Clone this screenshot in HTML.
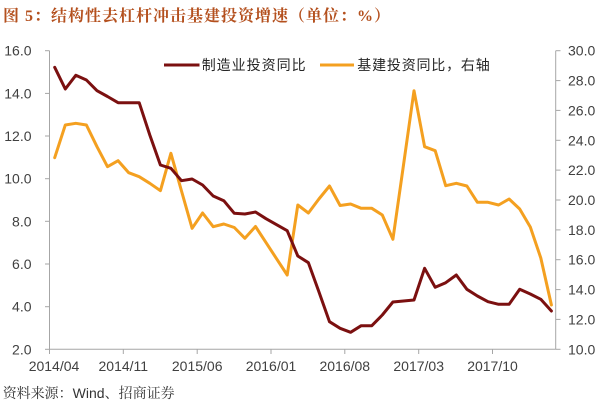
<!DOCTYPE html>
<html>
<head>
<meta charset="utf-8">
<style>
html,body{margin:0;padding:0;background:#fff;}
svg{display:block;}
</style>
</head>
<body>
<svg width="600" height="404" viewBox="0 0 600 404" xmlns="http://www.w3.org/2000/svg">
<rect width="600" height="404" fill="#fff"/>
<text x="3" y="21" font-family="'Liberation Serif','Noto Serif CJK SC',serif" font-size="16" font-weight="bold" fill="#B4501E" letter-spacing="1">图 5：结构性去杠杆冲击基建投资增速（单位：%）</text>

<g stroke="#A6A6A6" stroke-width="1" fill="none">
<line x1="49.5" y1="50.7" x2="49.5" y2="349.3"/>
<line x1="555.7" y1="50.7" x2="555.7" y2="349.3"/>
<line x1="49.5" y1="349.3" x2="555.7" y2="349.3"/>
<!-- left ticks -->
<line x1="45" y1="50.7" x2="49.5" y2="50.7"/>
<line x1="45" y1="93.4" x2="49.5" y2="93.4"/>
<line x1="45" y1="136" x2="49.5" y2="136"/>
<line x1="45" y1="178.7" x2="49.5" y2="178.7"/>
<line x1="45" y1="221.3" x2="49.5" y2="221.3"/>
<line x1="45" y1="264" x2="49.5" y2="264"/>
<line x1="45" y1="306.7" x2="49.5" y2="306.7"/>
<line x1="45" y1="349.3" x2="49.5" y2="349.3"/>
<!-- right ticks -->
<line x1="555.7" y1="50.7" x2="560.5" y2="50.7"/>
<line x1="555.7" y1="80.6" x2="560.5" y2="80.6"/>
<line x1="555.7" y1="110.4" x2="560.5" y2="110.4"/>
<line x1="555.7" y1="140.3" x2="560.5" y2="140.3"/>
<line x1="555.7" y1="170.1" x2="560.5" y2="170.1"/>
<line x1="555.7" y1="200" x2="560.5" y2="200"/>
<line x1="555.7" y1="229.9" x2="560.5" y2="229.9"/>
<line x1="555.7" y1="259.7" x2="560.5" y2="259.7"/>
<line x1="555.7" y1="289.6" x2="560.5" y2="289.6"/>
<line x1="555.7" y1="319.4" x2="560.5" y2="319.4"/>
<line x1="555.7" y1="349.3" x2="560.5" y2="349.3"/>
<!-- bottom ticks -->
<line x1="49.5" y1="349.3" x2="49.5" y2="354"/>
<line x1="123.3" y1="349.3" x2="123.3" y2="354"/>
<line x1="197.2" y1="349.3" x2="197.2" y2="354"/>
<line x1="271" y1="349.3" x2="271" y2="354"/>
<line x1="344.8" y1="349.3" x2="344.8" y2="354"/>
<line x1="418.7" y1="349.3" x2="418.7" y2="354"/>
<line x1="492.5" y1="349.3" x2="492.5" y2="354"/>
</g>

<g font-family="'Liberation Sans',sans-serif" font-size="14" fill="#404040">
<g text-anchor="end">
<text x="31.5" y="55.7">16.0</text>
<text x="31.5" y="98.4">14.0</text>
<text x="31.5" y="141">12.0</text>
<text x="31.5" y="183.7">10.0</text>
<text x="31.5" y="226.3">8.0</text>
<text x="31.5" y="269">6.0</text>
<text x="31.5" y="311.7">4.0</text>
<text x="31.5" y="354.3">2.0</text>
</g>
<g text-anchor="start">
<text x="568" y="55.7">30.0</text>
<text x="568" y="85.6">28.0</text>
<text x="568" y="115.4">26.0</text>
<text x="568" y="145.3">24.0</text>
<text x="568" y="175.1">22.0</text>
<text x="568" y="205">20.0</text>
<text x="568" y="234.9">18.0</text>
<text x="568" y="264.7">16.0</text>
<text x="568" y="294.6">14.0</text>
<text x="568" y="324.4">12.0</text>
<text x="568" y="354.3">10.0</text>
</g>
<g text-anchor="middle">
<text x="54" y="371">2014/04</text>
<text x="123.3" y="371">2014/11</text>
<text x="197.2" y="371">2015/06</text>
<text x="271" y="371">2016/01</text>
<text x="344.8" y="371">2016/08</text>
<text x="418.7" y="371">2017/03</text>
<text x="492.5" y="371">2017/10</text>
</g>
</g>

<!-- orange series (right axis) -->
<polyline fill="none" stroke="#F4A020" stroke-width="3" stroke-linejoin="round" stroke-linecap="round" points="
54.7,157.7 65.3,125 75.8,123.3 86.4,125 97,146.7 107.5,166.7 118.1,160.7 128.7,172.7 139.2,176.7 149.8,183.3
160.4,190.7 170.9,153.3 181.5,191 192.1,228.3 202.6,213 213.2,226.7 223.8,224 234.3,227.5 244.9,238.3 255.5,226.5
266,242.6 276.6,258.8 287.2,275 297.8,205 308.4,213 318.9,199 329.5,186 340.1,205.5 350.6,204 361.2,208.3
371.8,208.3 382.3,215 392.9,239.3 403.5,165 414,90.7 424.6,146.7 435.2,150.7 445.7,185.7 456.3,183.3 466.9,186
477.4,202.3 488,202.3 498.6,205 509.1,199 519.7,209 530.3,227 540.8,258 551.4,305"/>

<!-- dark red series (left axis) -->
<polyline fill="none" stroke="#7B1010" stroke-width="3" stroke-linejoin="round" stroke-linecap="round" points="
54.7,67.3 65.3,89 75.8,75.3 86.4,80 97,90.7 107.5,96.5 118.1,102.7 128.7,102.7 139.2,102.7 149.8,135
160.4,165 170.9,168.3 181.5,180.7 192.1,179 202.6,185 213.2,196 223.8,200.7 234.3,213.3 244.9,214 255.5,212
266,218.7 276.6,224.7 287.2,230.7 297.8,256 308.4,262.7 318.9,291.7 329.5,321.7 340.1,328.3 350.6,332.3 361.2,325.7
371.8,325.7 382.3,315 392.9,302 403.5,301 414,300 424.6,268.3 435.2,287.3 445.7,282.7 456.3,275 466.9,289.3
477.4,296 488,301.7 498.6,304.3 509.1,304.3 519.7,289.3 530.3,294 540.8,299.3 551.4,311"/>

<!-- legend -->
<line x1="164" y1="65" x2="199.5" y2="65" stroke="#7B1010" stroke-width="3"/>
<text x="201.7" y="70" font-family="'Liberation Sans','Noto Sans CJK SC',sans-serif" font-size="14" letter-spacing="1" fill="#262626">制造业投资同比</text>
<line x1="320" y1="65" x2="354" y2="65" stroke="#F4A020" stroke-width="3"/>
<text x="357.3" y="70" font-family="'Liberation Sans','Noto Sans CJK SC',sans-serif" font-size="14" letter-spacing="0.8" fill="#262626">基建投资同比，右轴</text>

<!-- footer -->
<text x="2.7" y="398" font-family="'Liberation Sans','Noto Serif CJK SC',serif" font-size="14" fill="#333">资料来源：Wind、招商证券</text>
</svg>
</body>
</html>
